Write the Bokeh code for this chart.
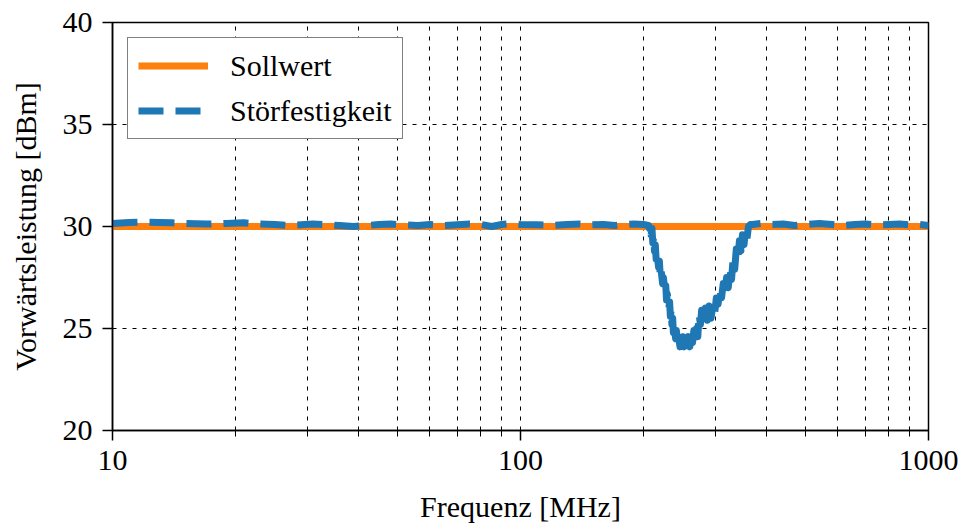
from bokeh.plotting import figure
from bokeh.models import Legend, LegendItem, FixedTicker, PrintfTickFormatter
from bokeh.embed import file_html
from bokeh.resources import INLINE

freq = [10, 11, 12, 13, 14, 15, 17, 19, 21, 23, 25, 27, 29, 31, 33, 36, 39, 42, 45, 48,
        52, 56, 60, 65, 70, 75, 80, 85, 90, 95, 100, 110, 120, 130, 140, 150, 160, 170,
        180, 190, 200, 206,
        207, 208, 209, 210, 211, 212, 213, 214, 215, 216, 218, 219, 220, 221, 223, 224,
        226, 227, 228, 229, 231, 232, 233, 234, 235, 236, 237, 238, 240, 241, 243, 244,
        246, 247, 249, 250, 252, 254, 256, 258, 260, 262, 264, 266, 268, 270, 272, 274,
        276, 278, 281, 284, 287, 290, 293, 296, 299, 302, 305, 308, 311, 314, 317, 320,
        323, 326, 329, 332, 335, 338, 341, 344, 347, 350, 353, 356, 359, 362, 366,
        370, 390, 410, 440, 470, 500, 540, 580, 620, 660, 700, 750, 800, 850, 900, 950, 1000]
stoer = [30.15, 30.2, 30.22, 30.2, 30.18, 30.15, 30.12, 30.15, 30.18, 30.12, 30.1, 30.05,
         30.08, 30.12, 30.1, 30.05, 30.0, 30.05, 30.1, 30.12, 30.08, 30.05, 30.1, 30.05,
         30.08, 30.12, 30.1, 30.0, 30.1, 30.15, 30.1, 30.08, 30.05, 30.1, 30.12, 30.08,
         30.1, 30.05, 30.1, 30.12, 30.1, 30.05,
         29.9, 30.1, 29.6, 29.9, 29.2, 29.5, 28.8, 29.1, 28.4, 28.7, 28.0, 28.3,
         27.6, 27.9, 27.2, 27.5, 26.8, 27.1, 26.4, 26.7, 26.0, 26.3, 25.6, 25.9,
         25.2, 25.5, 24.8, 25.1, 24.5, 24.9, 24.2, 24.6, 24.1, 24.5, 24.0, 24.6,
         24.1, 24.7, 24.2, 24.6, 24.1, 24.8, 24.3, 24.9, 24.4, 25.0, 24.6, 25.7,
         25.2, 25.9, 25.3, 26.0, 25.4, 26.1, 25.5, 26.1, 25.7, 26.5, 26.2, 26.9,
         26.5, 27.2, 26.8, 27.5, 27.0, 27.9, 27.4, 28.4, 27.9, 28.9, 28.4, 29.3,
         28.8, 29.6, 29.1, 29.8, 29.4, 30.0, 30.1,
         30.1, 30.15, 30.1, 30.12, 30.05, 30.1, 30.15, 30.1, 30.05, 30.1, 30.12, 30.08,
         30.1, 30.12, 30.08, 30.1, 30.05]
soll_x = [10, 1000]
soll_y = [30, 30]

x_major = [10, 100, 1000]
x_minor = [20, 30, 40, 50, 60, 70, 80, 90, 200, 300, 400, 500, 600, 700, 800, 900]
y_major = [20, 25, 30, 35, 40]

FONT = "Liberation Serif"
FS = "30px"

p = figure(width=960, height=527, x_axis_type="log", x_range=(10, 1000), y_range=(20, 40),
           output_backend="svg", toolbar_location=None,
           min_border_left=112, min_border_right=32, min_border_top=22, min_border_bottom=97)

p.outline_line_color = "black"
p.outline_line_width = 1.5
p.background_fill_color = "white"
p.border_fill_color = "white"

r_soll = p.line(soll_x, soll_y, line_color="#ff7f0e", line_width=7)
r_st = p.line(freq, stoer, line_color="#1f77b4", line_width=7, line_dash="25 12",
              line_join="round")

p.xaxis.ticker = FixedTicker(ticks=x_major, minor_ticks=x_minor)
p.xaxis.formatter = PrintfTickFormatter(format="%d")
p.yaxis.ticker = FixedTicker(ticks=y_major)

for ax in (p.xaxis, p.yaxis):
    ax.axis_line_color = "black"
    ax.axis_line_width = 1.5
    ax.major_tick_line_color = "black"
    ax.major_tick_line_width = 1.5
    ax.major_tick_out = 10
    ax.major_tick_in = 0
    ax.minor_tick_line_color = "black"
    ax.minor_tick_line_width = 1
    ax.minor_tick_out = 6
    ax.minor_tick_in = 0
    ax.major_label_text_font = FONT
    ax.major_label_text_font_size = FS
    ax.major_label_text_color = "black"
    ax.axis_label_text_font = FONT
    ax.axis_label_text_font_size = FS
    ax.axis_label_text_font_style = "normal"
    ax.axis_label_text_color = "black"

p.yaxis.minor_tick_line_color = None
p.xaxis.axis_label = "Frequenz [MHz]"
p.yaxis.axis_label = "Vorwärtsleistung [dBm]"
p.xaxis.major_label_standoff = 10
p.xaxis.axis_label_standoff = 17
p.yaxis.major_label_standoff = 10
p.yaxis.axis_label_standoff = 18

p.xgrid.grid_line_color = "black"
p.xgrid.grid_line_dash = "4 6"
p.xgrid.grid_line_width = 1
p.xgrid.minor_grid_line_color = "black"
p.xgrid.minor_grid_line_dash = "4 6"
p.xgrid.minor_grid_line_width = 1
p.ygrid.grid_line_color = "black"
p.ygrid.grid_line_dash = "4 6"
p.ygrid.grid_line_width = 1

legend = Legend(items=[LegendItem(label="Sollwert", renderers=[r_soll]),
                       LegendItem(label="Störfestigkeit", renderers=[r_st])],
                location="top_left")
legend.label_text_font = FONT
legend.label_text_font_size = FS
legend.label_text_color = "black"
legend.label_height = 35
legend.border_line_color = "black"
legend.border_line_width = 1.5
legend.background_fill_alpha = 1
legend.glyph_width = 70
legend.glyph_height = 35
legend.label_standoff = 22
legend.spacing = 10
legend.padding = 10
legend.margin = 15
p.add_layout(legend)

open("out.html", "w").write(file_html(p, INLINE))
